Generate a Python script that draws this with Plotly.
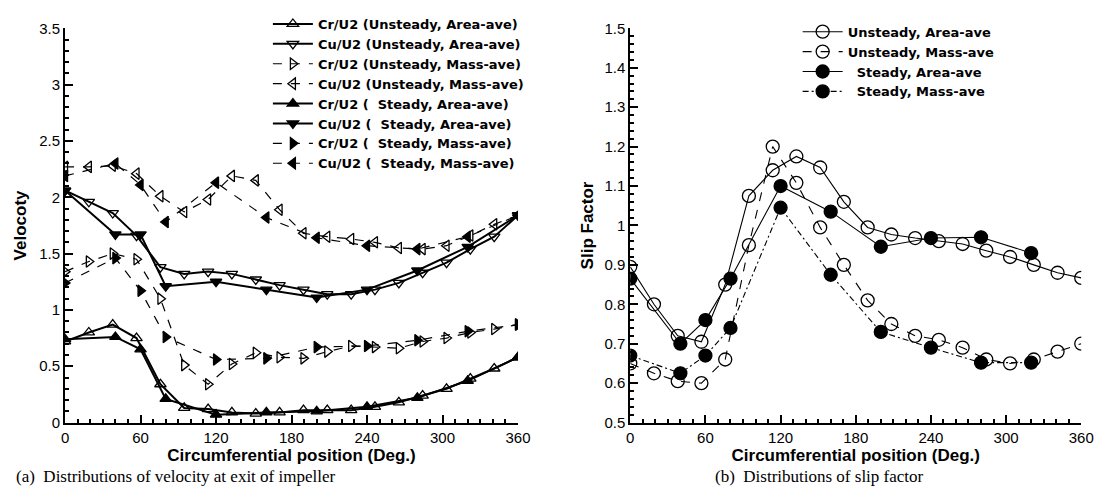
import plotly.graph_objects as go

# ---------------- data ----------------
# unsteady sample positions (deg)
unsteady_deg = [0, 18.9, 37.9, 56.8, 75.8, 94.7, 113.7, 132.6, 151.6, 170.5,
                189.5, 208.4, 227.4, 246.3, 265.3, 284.2, 303.2, 322.1, 341.1, 360]
steady_deg_a = [0, 40, 60, 80, 120, 160, 200, 240, 280, 320, 360]
steady_deg_b = [0, 40, 60, 80, 120, 160, 200, 240, 280, 320]

cr_unsteady_area = [0.72, 0.80, 0.87, 0.75, 0.34, 0.13, 0.12, 0.09, 0.08, 0.09,
                    0.11, 0.11, 0.11, 0.14, 0.18, 0.24, 0.30, 0.39, 0.48, 0.58]
cu_unsteady_area = [2.06, 1.96, 1.86, 1.66, 1.38, 1.32, 1.34, 1.32, 1.27, 1.22,
                    1.18, 1.14, 1.14, 1.18, 1.24, 1.33, 1.42, 1.54, 1.65, 1.84]
cr_unsteady_mass = [1.34, 1.43, 1.50, 1.45, 1.10, 0.51, 0.34, 0.52, 0.62, 0.58,
                    0.57, 0.63, 0.68, 0.67, 0.66, 0.72, 0.75, 0.80, 0.83, 0.87]
cu_unsteady_mass = [2.27, 2.27, 2.28, 2.21, 2.01, 1.87, 1.98, 2.19, 2.15, 1.89,
                    1.68, 1.65, 1.63, 1.60, 1.55, 1.54, 1.57, 1.66, 1.76, 1.84]
cr_steady_area = [0.74, 0.76, 0.65, 0.21, 0.07, 0.09, 0.10, 0.14, 0.22, 0.37, 0.58]
cu_steady_area = [2.06, 1.67, 1.67, 1.21, 1.25, 1.18, 1.11, 1.18, 1.35, 1.56, 1.84]
cr_steady_mass = [1.24, 1.46, 1.17, 0.76, 0.56, 0.57, 0.67, 0.68, 0.73, 0.81, 0.87]
cu_steady_mass = [2.19, 2.30, 2.11, 1.78, 2.13, 1.82, 1.64, 1.57, 1.54, 1.65, 1.84]

slip_unsteady_area = [0.895, 0.80, 0.72, 0.705, 0.85, 1.075, 1.14, 1.175, 1.147, 1.06,
                      0.995, 0.977, 0.968, 0.96, 0.953, 0.936, 0.92, 0.90, 0.88, 0.867]
slip_unsteady_mass = [0.65, 0.625, 0.605, 0.60, 0.66, 0.95, 1.20, 1.108, 0.995, 0.90,
                      0.81, 0.75, 0.72, 0.71, 0.69, 0.66, 0.65, 0.66, 0.68, 0.70]
slip_steady_area = [0.865, 0.70, 0.76, 0.865, 1.10, 1.035, 0.946, 0.968, 0.97, 0.93]
slip_steady_mass = [0.67, 0.625, 0.67, 0.74, 1.045, 0.875, 0.73, 0.69, 0.652, 0.652]

NB = "\u00a0"
left_names = ["Cr/U2 (Unsteady, Area-ave)", "Cu/U2 (Unsteady, Area-ave)",
              "Cr/U2 (Unsteady, Mass-ave)", "Cu/U2 (Unsteady, Mass-ave)",
              "Cr/U2 (" + NB + " Steady, Area-ave)", "Cu/U2 (" + NB + " Steady, Area-ave)",
              "Cr/U2 (" + NB + " Steady, Mass-ave)", "Cu/U2 (" + NB + " Steady, Mass-ave)"]
right_names = ["Unsteady, Area-ave", "Unsteady, Mass-ave",
               NB + NB + "Steady, Area-ave", NB + NB + "Steady, Mass-ave"]

x_ticks = [0, 60, 120, 180, 240, 300, 360]

# ---------------- figure ----------------
fig = go.Figure()

left_syms = ["triangle-up-open", "triangle-down-open", "triangle-right-open", "triangle-left-open",
             "triangle-up", "triangle-down", "triangle-right", "triangle-left"]
left_dash = ["solid", "solid", "dash", "dash", "solid", "solid", "dash", "dash"]
left_width = [2.0, 2.0, 1.2, 1.2, 2.0, 2.0, 1.2, 1.2]
left_data = [(unsteady_deg, cr_unsteady_area), (unsteady_deg, cu_unsteady_area),
             (unsteady_deg, cr_unsteady_mass), (unsteady_deg, cu_unsteady_mass),
             (steady_deg_a, cr_steady_area), (steady_deg_a, cu_steady_area),
             (steady_deg_a, cr_steady_mass), (steady_deg_a, cu_steady_mass)]
for (xs, ys), sym, dash, w, name in zip(left_data, left_syms, left_dash, left_width, left_names):
    fig.add_trace(go.Scatter(
        x=xs, y=ys, name=name, mode="lines+markers", xaxis="x", yaxis="y",
        line=dict(color="black", width=w, dash=dash),
        marker=dict(symbol=sym, size=10, color="black", line=dict(color="black", width=1.3)),
        legend="legend"))

right_syms = ["circle-open", "circle-open", "circle", "circle"]
right_dash = ["solid", "dash", "solid", "6px,3px,2px,3px"]
right_data = [(unsteady_deg, slip_unsteady_area), (unsteady_deg, slip_unsteady_mass),
              (steady_deg_b, slip_steady_area), (steady_deg_b, slip_steady_mass)]
for (xs, ys), sym, dash, name in zip(right_data, right_syms, right_dash, right_names):
    fig.add_trace(go.Scatter(
        x=xs, y=ys, name=name, mode="lines+markers", xaxis="x2", yaxis="y2",
        line=dict(color="black", width=1.1, dash=dash),
        marker=dict(symbol=sym, size=13, color="black", line=dict(color="black", width=1.3)),
        legend="legend2"))

W, H = 1110, 504
ydom = [1 - 428 / H, 1 - 20 / H]

axis_common = dict(
    showline=True, linecolor="black", linewidth=2, ticks="inside", ticklen=8,
    tickwidth=1.5, tickcolor="black", showgrid=False, zeroline=False, mirror=False,
    tickfont=dict(family="Liberation Sans, Arial", size=15, color="black"),
)
xtitle = dict(text="<b>Circumferential position (Deg.)</b>",
              font=dict(family="Liberation Sans, Arial", size=17, color="black"), standoff=2)
legend_font = dict(family="DejaVu Sans", size=13, color="black", weight="bold")

fig.update_layout(
    width=W, height=H, margin=dict(l=0, r=0, t=0, b=0),
    paper_bgcolor="white", plot_bgcolor="white",
    xaxis=dict(domain=[62 / W, 522 / W], range=[0, 360], tickvals=x_ticks,
               minor=dict(dtick=10, ticks="inside", ticklen=4, tickcolor="black"),
               title=xtitle, anchor="y", **axis_common),
    yaxis=dict(domain=ydom, range=[0, 3.5], dtick=0.5,
               minor=dict(dtick=0.1, ticks="inside", ticklen=4, tickcolor="black"),
               title=dict(text="<b>Velocoty</b>",
                          font=dict(family="Liberation Sans, Arial", size=17, color="black"),
                          standoff=8),
               anchor="x", **axis_common),
    xaxis2=dict(domain=[636 / W, 1094 / W], range=[0, 360], tickvals=x_ticks,
                minor=dict(dtick=10, ticks="inside", ticklen=4, tickcolor="black"),
                title=xtitle, anchor="y2", **axis_common),
    yaxis2=dict(domain=ydom, range=[0.5, 1.5], dtick=0.1,
                minor=dict(dtick=0.02, ticks="inside", ticklen=4, tickcolor="black"),
                title=dict(text="<b>Slip Factor</b>",
                           font=dict(family="Liberation Sans, Arial", size=17, color="black"),
                           standoff=6),
                anchor="x2", **axis_common),
    legend=dict(x=268 / W, y=1.0, xanchor="left", yanchor="top",
                bgcolor="rgba(255,255,255,0)", borderwidth=0, font=legend_font,
                itemwidth=40, tracegroupgap=0),
    legend2=dict(x=806 / W, y=1 - 8 / H, xanchor="left", yanchor="top",
                 bgcolor="rgba(255,255,255,0)", borderwidth=0, font=legend_font,
                 itemwidth=40, tracegroupgap=0),
    showlegend=True,
    annotations=[
        dict(text="(a)  Distributions of velocity at exit of impeller", x=10 / W, y=1 - 484 / H,
             xref="paper", yref="paper", xanchor="left", yanchor="middle", showarrow=False,
             font=dict(family="Liberation Serif, Times New Roman", size=17, color="black")),
        dict(text="(b)  Distributions of slip factor", x=720 / W, y=1 - 484 / H,
             xref="paper", yref="paper", xanchor="left", yanchor="middle", showarrow=False,
             font=dict(family="Liberation Serif, Times New Roman", size=17, color="black")),
    ],
)

fig.write_html("out.html")
